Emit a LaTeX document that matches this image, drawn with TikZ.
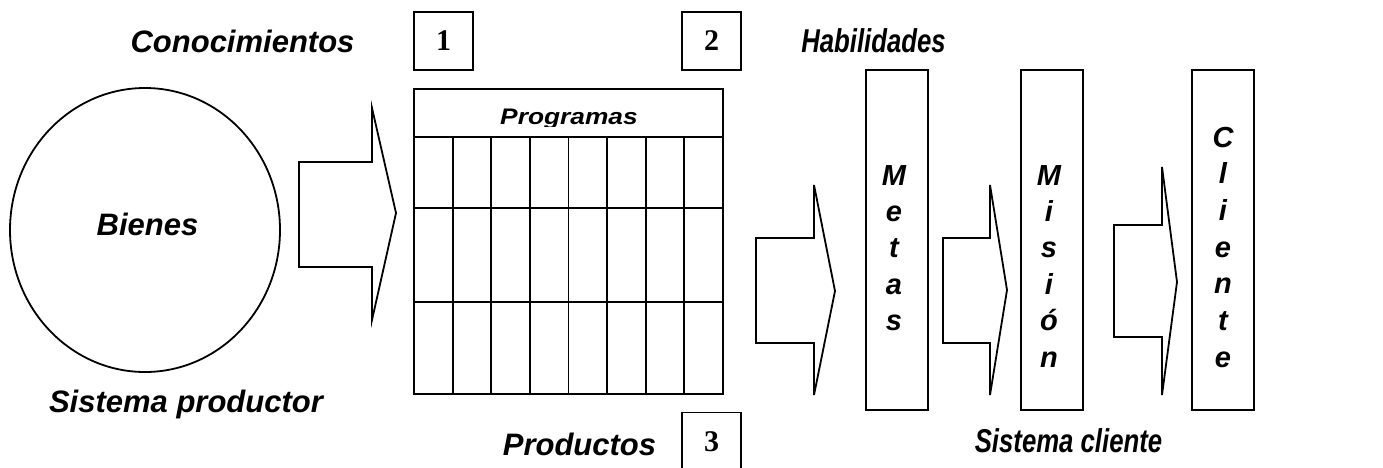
\documentclass[tikz,border=0pt]{standalone}
\usepackage{fontspec}
\usepackage{graphicx}
\setmainfont{Liberation Sans}
\newfontfamily\numfont{Liberation Serif}
\usetikzlibrary{shapes.geometric}
\begin{document}
\begin{tikzpicture}[x=1pt,y=-1pt, line width=1.8pt,
  bigl/.style={font=\fontsize{31}{36}\selectfont\bfseries\itshape, inner sep=0pt, anchor=base},
  narrowl/.style={font=\fontsize{33}{38}\selectfont\bfseries\itshape, inner sep=0pt, anchor=base},
  smalll/.style={font=\fontsize{29}{32}\selectfont\bfseries\itshape, inner sep=0pt, anchor=base},
  numbox/.style={draw, minimum width=59pt, minimum height=58pt, inner sep=0pt, font=\fontsize{30}{34}\selectfont\numfont\bfseries},
  vbox/.style={draw, minimum width=62pt, minimum height=340pt, inner sep=0pt},
  barrow/.style={draw, line join=miter, fill=white}]
\useasboundingbox (0,0) rectangle (1383,467);

% circle
\node[draw, ellipse, minimum width=270pt, minimum height=284pt, inner sep=0pt] (bienes) at (145,230) {};
\node[bigl] (bienestxt) at (147.5,235) {Bienes};
\node[bigl] (conoc) at (242.5,52) {Conocimientos};
\node[bigl] (sprod) at (186,412) {Sistema productor};
\node[bigl] (productos) at (579.5,455) {Productos};
\node[narrowl] (habil) at (873.5,52) {\scalebox{0.78}[1]{Habilidades}};
\node[narrowl] (scli) at (1068.5,452) {\scalebox{0.78}[1]{Sistema cliente}};

% number boxes
\node[numbox] (n1) at (443.5,41) {1};
\node[numbox] (n2) at (711.5,41) {2};
\node[numbox] (n3) at (711.5,441.5) {3};

% table
\node[draw, minimum width=309pt, minimum height=305pt, inner sep=0pt] (tabla) at (568.5,241.5) {};
\draw (414,137) -- (723,137);
\draw (414,208) -- (723,208);
\draw (414,302) -- (723,302);
\foreach \k in {1,...,7} \draw ({414+38.625*\k},137) -- ({414+38.625*\k},394);
\begin{scope}
  \clip (414,90) rectangle (723,126);
  \node[font=\fontsize{22.5}{26}\selectfont\bfseries\itshape, inner sep=0pt, anchor=base] (prog) at (569,124) {\scalebox{1.17}[1]{Programas}};
\end{scope}

% block arrows
\draw[barrow] (299,162) -- (372,162) -- (372,108) -- (396,213) -- (372,320) -- (372,267) -- (299,267) -- cycle;
\draw[barrow] (756,238) -- (814,238) -- (814,185) -- (835,291) -- (814,395) -- (814,343) -- (756,343) -- cycle;
\draw[barrow] (943,238) -- (990,238) -- (990,185) -- (1007,290) -- (990,395) -- (990,343) -- (943,343) -- cycle;
\draw[barrow] (1114,225) -- (1162,225) -- (1162,167) -- (1177,282) -- (1162,395) -- (1162,337) -- (1114,337) -- cycle;

% vertical boxes
\node[vbox] (metas) at (897,240) {};
\node[vbox] (mision) at (1052,240) {};
\node[vbox] (cliente) at (1223,240) {};
\foreach \l [count=\i] in {M,e,t,a,s}
  \node[smalll] (metas\i) at (894,{185+36.4*(\i-1)}) {\l};
\foreach \l [count=\i] in {M,i,s,i,ó,n}
  \node[smalll] (mision\i) at (1049,{185+36.4*(\i-1)}) {\l};
\foreach \l [count=\i] in {C,l,i,e,n,t,e}
  \node[smalll] (cliente\i) at (1223,{147+36.7*(\i-1)}) {\l};
\end{tikzpicture}
\end{document}
